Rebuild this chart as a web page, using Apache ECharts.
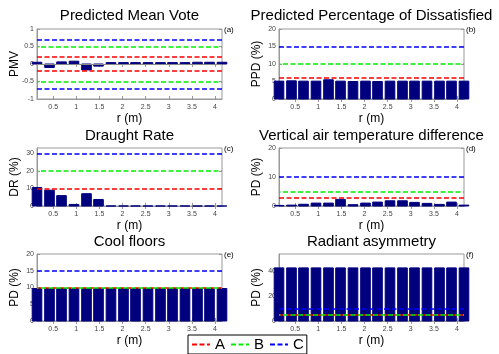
<!DOCTYPE html>
<html><head><meta charset="utf-8">
<script src="https://cdn.jsdelivr.net/npm/echarts@6/dist/echarts.min.js"></script>
<style>html,body{margin:0;padding:0;background:#fff}#c{width:499px;height:354px}</style>
</head><body><div id="c"></div>
<script>
// ---- data ----
const r = [0.15, 0.42, 0.68, 0.95, 1.22, 1.48, 1.75, 2.02, 2.28, 2.55, 2.82, 3.08, 3.35, 3.62, 3.88, 4.15];
const pmv  = [0.05, -0.10, 0.06, 0.08, -0.17, -0.06, 0.04, 0.04, 0.04, 0.04, 0.04, 0.04, 0.04, 0.05, 0.05, 0.05];
const ppd  = [5.1, 5.2, 5.1, 5.1, 5.5, 5.1, 5.0, 5.1, 5.0, 5.1, 5.1, 5.1, 5.1, 5.1, 5.1, 5.1];
const dr   = [10.5, 9.0, 5.9, 0.9, 7.0, 3.7, 0, 0, 0, 0, 0, 0, 0, 0, 0, 0];
const vert = [0.2, 0.3, 0.6, 1.0, 1.0, 2.3, 0.45, 1.0, 1.35, 1.8, 1.8, 1.25, 0.9, 0.55, 1.35, 0.3];
const cool = [9.7, 9.7, 9.7, 9.7, 9.7, 9.7, 9.7, 9.7, 9.7, 9.7, 9.7, 9.7, 9.7, 9.7, 9.7, 9.7];
const rad  = [42.8, 42.8, 42.8, 42.8, 42.8, 42.8, 42.8, 42.8, 42.8, 42.8, 42.8, 42.8, 42.8, 42.8, 42.8, 42.8];

const xTicks = [0.5, 1, 1.5, 2, 2.5, 3, 3.5, 4];
const pmvTicks  = [-1, -0.5, 0, 0.5, 1];
const ppdTicks  = [0, 5, 10, 15, 20];
const drTicks   = [0, 10, 20, 30];
const vertTicks = [0, 10, 20];
const coolTicks = [0, 5, 10, 15, 20];
const radTicks  = [0, 20, 40];

// category limits A / B / C
const pmvA = [-0.2, 0.2], pmvB = [-0.5, 0.5], pmvC = [-0.7, 0.7];
const ppdA = [6], ppdB = [10], ppdC = [15];
const drA = [10], drB = [20], drC = [30];
const vertA = [3], vertB = [5], vertC = [10];
const coolA = [10], coolB = [10], coolC = [15];
const radA = [5], radB = [5], radC = [10];

const classes = ['A', 'B', 'C'];
const titles = ['Predicted Mean Vote', 'Predicted Percentage of Dissatisfied', 'Draught Rate',
                'Vertical air temperature difference', 'Cool floors', 'Radiant asymmetry'];
const tags = ['(a)', '(b)', '(c)', '(d)', '(e)', '(f)'];
const yNames = ['PMV', 'PPD (%)', 'DR (%)', 'PD (%)', 'PD (%)', 'PD (%)'];
const xName = 'r (m)';

// ---- layout / style ----
const FONT = "'Liberation Sans', Arial, Helvetica, sans-serif";
const COLORS = {A: '#ff0000', B: '#00ee00', C: '#0000ff'};
const DASH = [5, 2.5];
const AX = '#999';
const panels = [
  {values: pmv,  ticks: pmvTicks,  min: -1, max: 1,  lim: [pmvA, pmvB, pmvC],   grid: {left: 37,  top: 29,  width: 185, height: 70}, baseline: true},
  {values: ppd,  ticks: ppdTicks,  min: 0,  max: 20, lim: [ppdA, ppdB, ppdC],   grid: {left: 279, top: 29,  width: 185, height: 70}},
  {values: dr,   ticks: drTicks,   min: 0,  max: 33, lim: [drA, drB, drC],      grid: {left: 37,  top: 148, width: 185, height: 58}},
  {values: vert, ticks: vertTicks, min: 0,  max: 20, lim: [vertA, vertB, vertC], grid: {left: 279, top: 148, width: 185, height: 58}},
  {values: cool, ticks: coolTicks, min: 0,  max: 20, lim: [coolA, coolB, coolC], grid: {left: 37,  top: 254, width: 185, height: 67}},
  {values: rad,  ticks: radTicks,  min: 0,  max: 54, lim: [radA, radB, radC],   grid: {left: 279, top: 254, width: 185, height: 67}}
];
const titleTops = [8, 8, 128, 128, 234, 234];

const grids = [], xAxes = [], yAxes = [], series = [], titleOpts = [], graphics = [];
panels.forEach((p, i) => {
  grids.push(Object.assign({show: true, borderColor: AX, borderWidth: 1, backgroundColor: '#fff'}, p.grid));
  const cx = p.grid.left + p.grid.width / 2;
  titleOpts.push({text: titles[i], left: cx, top: titleTops[i], textAlign: 'center', padding: 0,
    textStyle: {fontFamily: FONT, fontSize: 15, fontWeight: 'normal', color: '#000'}});
  graphics.push({type: 'text', left: p.grid.left + p.grid.width + 2, top: p.grid.top - 3,
    style: {text: tags[i], fontFamily: FONT, fontSize: 8, fill: '#000'}});
  xAxes.push({gridIndex: i, type: 'value', min: 0.15, max: 4.15, position: 'bottom',
    name: xName, nameLocation: 'middle', nameGap: 14, nameMoveOverlap: false,
    nameTextStyle: {fontFamily: FONT, fontSize: 12, color: '#000'},
    axisLine: {show: true, onZero: false, lineStyle: {color: AX}},
    axisTick: {show: true, inside: true, length: 3, customValues: xTicks, lineStyle: {color: AX}},
    axisLabel: {customValues: xTicks, fontFamily: FONT, fontSize: 7, color: '#444', margin: 5},
    splitLine: {show: false}});
  xAxes.push({gridIndex: i, type: 'value', min: 0.15, max: 4.15, position: 'top',
    axisLine: {show: false}, axisLabel: {show: false}, splitLine: {show: false},
    axisTick: {show: true, inside: true, length: 3, customValues: xTicks, lineStyle: {color: AX}}});
  yAxes.push({gridIndex: i, type: 'value', min: p.min, max: p.max, position: 'left',
    name: yNames[i], nameLocation: 'middle', nameGap: 16, nameMoveOverlap: false,
    nameTextStyle: {fontFamily: FONT, fontSize: 12, color: '#000'},
    axisLine: {show: true, onZero: false, lineStyle: {color: AX}},
    axisTick: {show: true, inside: true, length: 3, customValues: p.ticks, lineStyle: {color: AX}},
    axisLabel: {customValues: p.ticks, fontFamily: FONT, fontSize: 7, color: '#444', margin: 3},
    splitLine: {show: false}});
  yAxes.push({gridIndex: i, type: 'value', min: p.min, max: p.max, position: 'right',
    axisLine: {show: false}, axisLabel: {show: false}, splitLine: {show: false},
    axisTick: {show: true, inside: true, length: 3, customValues: p.ticks, lineStyle: {color: AX}}});
  const ml = [];
  if (p.baseline) ml.push({yAxis: 0, lineStyle: {color: '#888', type: 'solid', width: 1}});
  classes.forEach((c, k) => {
    p.lim[k].forEach(v => ml.push({yAxis: v, lineStyle: {color: COLORS[c], type: DASH, width: 1.5,
      dashOffset: (k === 1 ? 3.5 : 0)}}));
  });
  series.push({type: 'bar', xAxisIndex: 2 * i, yAxisIndex: 2 * i,
    data: r.map((x, j) => [x, p.values[j]]), barWidth: '80%',
    itemStyle: {color: '#00007f', borderColor: '#00007f'},
    markLine: {silent: true, symbol: ['none', 'none'], label: {show: false}, data: ml}});
});
classes.forEach(c => series.push({type: 'line', name: c, xAxisIndex: 0, yAxisIndex: 0, data: [],
  symbol: 'none', showSymbol: false, color: COLORS[c], lineStyle: {color: COLORS[c], type: DASH, width: 1.5}}));

const chart = echarts.init(document.getElementById('c'), null, {renderer: 'canvas'});
chart.setOption({
  animation: false,
  title: titleOpts,
  grid: grids, xAxis: xAxes, yAxis: yAxes, series: series,
  graphic: graphics,
  legend: {data: classes, left: 188, top: 335, orient: 'horizontal', itemWidth: 18, itemHeight: 10, itemGap: 5,
    padding: [2, 3], borderColor: '#000', borderWidth: 1, backgroundColor: '#fff',
    itemStyle: {opacity: 0, borderWidth: 0},
    textStyle: {fontFamily: FONT, fontSize: 15, color: '#000'}}
});
</script></body></html>
